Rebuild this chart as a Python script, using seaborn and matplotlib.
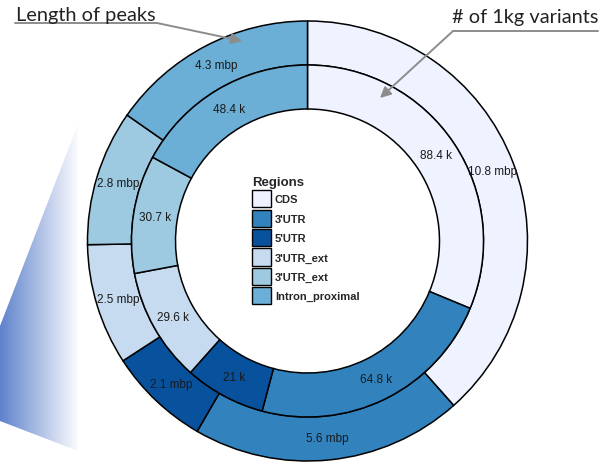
import numpy as np
import matplotlib
matplotlib.use("Agg")
import matplotlib.pyplot as plt
import seaborn as sns
from matplotlib.patches import Polygon, Patch
from matplotlib.colors import LinearSegmentedColormap

# data
regions = ["CDS", "3'UTR", "5'UTR", "3'UTR_ext", "3'UTR_ext", "Intron_proximal"]
peak_mbp = [10.8, 5.6, 2.1, 2.5, 2.8, 4.3]        # outer ring: length of peaks
variants_k = [88.4, 64.8, 21, 29.6, 30.7, 48.4]   # inner ring: # of 1kg variants
colors = ["#eff3ff", "#3182bd", "#08519c", "#c6dbef", "#9ecae1", "#6baed6"]

sns.set_style("white")
plt.rcParams["font.family"] = ["Liberation Sans", "DejaVu Sans"]

W, H = 608, 464
fig = plt.figure(figsize=(6.08, 4.64), dpi=100)
ax = fig.add_axes([0, 0, 1, 1])
cx, cy = 307.5, H - 242


def ring(values, radius, width, unit):
    wedges, _ = ax.pie(values, radius=radius, center=(cx, cy), startangle=90,
                       counterclock=False, colors=colors, frame=True,
                       wedgeprops=dict(width=width, edgecolor="black", linewidth=1.1))
    r = radius - width / 2
    for w, v in zip(wedges, values):
        ang = np.deg2rad((w.theta1 + w.theta2) / 2)
        ax.text(cx + r * np.cos(ang), cy + r * np.sin(ang), f"{v:g} {unit}",
                ha="center", va="center", fontsize=8.5, color="#1a1a1a")
    return wedges


ring(peak_mbp, 220, 44, "mbp")
ring(variants_k, 176, 44, "k")

# decorative gradient wedge on the left
grad = LinearSegmentedColormap.from_list("g", ["#5f82cc", "#ffffff"])
img = ax.imshow(np.linspace(0, 1, 256).reshape(1, -1), cmap=grad, aspect="auto",
                extent=[0, 80, H - 452, H - 125], zorder=0)
poly = Polygon([(78, H - 125), (0, H - 327), (0, H - 422), (78, H - 452)],
               closed=True, transform=ax.transData, facecolor="none", edgecolor="none")
ax.add_patch(poly)
img.set_clip_path(poly)

# annotations
ax.text(16, H - 15, "Length of peaks", ha="left", va="center", fontsize=14.4,
        family="Lato", color="#222222")
ax.plot([15, 157], [H - 24, H - 24], color="#8c8c8c", lw=1.4)
ax.annotate("", xy=(242, H - 42), xytext=(157, H - 24),
            arrowprops=dict(arrowstyle="-|>", color="#8c8c8c", lw=1.4, mutation_scale=16,
                            shrinkA=0, shrinkB=0))

ax.text(452, H - 17, "# of 1kg variants", ha="left", va="center", fontsize=14.4,
        family="Lato", color="#222222")
ax.plot([598, 453], [H - 32, H - 32], color="#8c8c8c", lw=1.4)
ax.annotate("", xy=(380, H - 99), xytext=(453, H - 32),
            arrowprops=dict(arrowstyle="-|>", color="#8c8c8c", lw=1.4, mutation_scale=16,
                            shrinkA=0, shrinkB=0))

handles = [Patch(facecolor=c, edgecolor="black", label=r) for c, r in zip(colors, regions)]
ax.legend(handles=handles, title="Regions", loc="upper left",
          bbox_to_anchor=(252 / W, 1 - 177 / H), frameon=False,
          prop=dict(weight="bold", size=8), title_fontproperties=dict(weight="bold", size=9.5),
          handlelength=1.7, handleheight=2.0, labelspacing=0.2, handletextpad=0.35,
          borderpad=0, borderaxespad=0, alignment="left")

ax.set_xlim(0, W)
ax.set_ylim(0, H)
ax.set_aspect("equal")
ax.axis("off")

fig.savefig("out.png", dpi=100)
